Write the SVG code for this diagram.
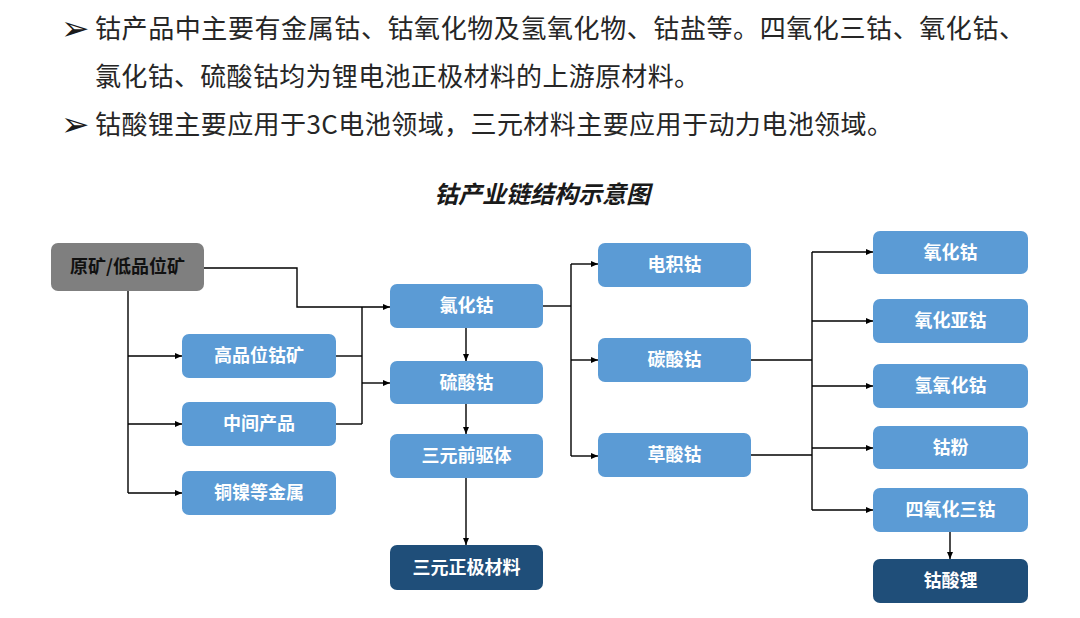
<svg xmlns="http://www.w3.org/2000/svg" width="1080" height="618" viewBox="0 0 1080 618">
<style>
.bul{font-family:"Noto Sans CJK SC","Liberation Sans",sans-serif;font-size:26px;fill:#262626}
.arr{font-family:"DejaVu Sans",sans-serif;font-size:34px;fill:#1a1a1a}
.title{font-family:"Noto Sans CJK SC",sans-serif;font-size:24px;font-weight:700;font-style:italic;fill:#1a1a1a}
.nb{fill:#5b9bd5}
.nd{fill:#1f4e79}
.ng{fill:#7f7f7f}
.t{font-family:"Noto Sans CJK SC",sans-serif;font-size:18px;font-weight:700;fill:#fff;text-anchor:middle}
.tk{font-family:"Noto Sans CJK SC",sans-serif;font-size:18px;font-weight:700;fill:#111;text-anchor:middle}
.c{fill:none;stroke:#000;stroke-width:1.4}
.ca{fill:none;stroke:#000;stroke-width:1.4;marker-end:url(#ah)}
</style>
<defs>
<marker id="ah" markerUnits="userSpaceOnUse" markerWidth="8" markerHeight="8" refX="7" refY="4" orient="auto">
<path d="M0,1 L7,4 L0,7 Z" fill="#000"/>
</marker>
</defs>
<rect width="1080" height="618" fill="#fff"/>
<g id="bullets">
<text class="arr" x="61" y="40">➢</text>
<text class="bul" x="95" y="38" textLength="930" lengthAdjust="spacing">钴产品中主要有金属钴、钴氧化物及氢氧化物、钴盐等。四氧化三钴、氧化钴、</text>
<text class="bul" x="95" y="86" textLength="605" lengthAdjust="spacing">氯化钴、硫酸钴均为锂电池正极材料的上游原材料。</text>
<text class="arr" x="61" y="136">➢</text>
<text class="bul" x="95" y="134" textLength="798" lengthAdjust="spacing">钴酸锂主要应用于3C电池领域，三元材料主要应用于动力电池领域。</text>
</g>
<text class="title" x="542" y="203" text-anchor="middle">钴产业链结构示意图</text>
<g id="connectors">
<path class="ca" d="M204,268 H297 V307 H390"/>
<path class="c" d="M128,291 V493"/>
<path class="ca" d="M128,356 H182"/>
<path class="ca" d="M128,424 H182"/>
<path class="ca" d="M128,493 H182"/>
<path class="c" d="M336,356 H362"/>
<path class="c" d="M336,424 H362"/>
<path class="c" d="M362,307 V424"/>
<path class="ca" d="M362,383 H390"/>
<path class="ca" d="M466,328 V361"/>
<path class="ca" d="M466,404 V434"/>
<path class="ca" d="M466,478 V545"/>
<path class="c" d="M543,306 H571"/>
<path class="c" d="M571,264 V456"/>
<path class="ca" d="M571,264 H598"/>
<path class="ca" d="M571,360 H598"/>
<path class="ca" d="M571,456 H598"/>
<path class="c" d="M751,360 H812"/>
<path class="c" d="M751,455 H812"/>
<path class="c" d="M812,252 V510"/>
<path class="ca" d="M812,252 H873"/>
<path class="ca" d="M812,321 H873"/>
<path class="ca" d="M812,386 H873"/>
<path class="ca" d="M812,448 H873"/>
<path class="ca" d="M812,510 H873"/>
<path class="ca" d="M950,532 V559"/>
</g>
<g id="n-raw"><rect class="ng" x="51" y="243" width="153" height="48" rx="7"/><text class="tk" x="127.5" y="273">原矿/低品位矿</text></g>
<g id="n-high"><rect class="nb" x="182" y="334" width="154" height="44" rx="7"/><text class="t" x="259" y="362">高品位钴矿</text></g>
<g id="n-mid"><rect class="nb" x="182" y="402" width="154" height="44" rx="7"/><text class="t" x="259" y="430">中间产品</text></g>
<g id="n-cuni"><rect class="nb" x="182" y="471" width="154" height="44" rx="7"/><text class="t" x="259" y="499">铜镍等金属</text></g>
<g id="n-cocl"><rect class="nb" x="390" y="284" width="153" height="44" rx="7"/><text class="t" x="466.5" y="312">氯化钴</text></g>
<g id="n-coso4"><rect class="nb" x="390" y="361" width="153" height="43" rx="7"/><text class="t" x="466.5" y="389">硫酸钴</text></g>
<g id="n-pre"><rect class="nb" x="390" y="434" width="153" height="44" rx="7"/><text class="t" x="466.5" y="462">三元前驱体</text></g>
<g id="n-ncm"><rect class="nd" x="390" y="545" width="153" height="45" rx="7"/><text class="t" x="466.5" y="574">三元正极材料</text></g>
<g id="n-elec"><rect class="nb" x="598" y="243" width="153" height="44" rx="7"/><text class="t" x="674.5" y="271">电积钴</text></g>
<g id="n-coco3"><rect class="nb" x="598" y="338" width="153" height="44" rx="7"/><text class="t" x="674.5" y="366">碳酸钴</text></g>
<g id="n-oxal"><rect class="nb" x="598" y="433" width="153" height="44" rx="7"/><text class="t" x="674.5" y="461">草酸钴</text></g>
<g id="n-coo"><rect class="nb" x="873" y="231" width="155" height="43" rx="7"/><text class="t" x="950.5" y="259">氧化钴</text></g>
<g id="n-coo2"><rect class="nb" x="873" y="299" width="155" height="44" rx="7"/><text class="t" x="950.5" y="327">氧化亚钴</text></g>
<g id="n-cooh"><rect class="nb" x="873" y="364" width="155" height="44" rx="7"/><text class="t" x="950.5" y="392">氢氧化钴</text></g>
<g id="n-copow"><rect class="nb" x="873" y="426" width="155" height="43" rx="7"/><text class="t" x="950.5" y="454">钴粉</text></g>
<g id="n-co3o4"><rect class="nb" x="873" y="488" width="155" height="44" rx="7"/><text class="t" x="950.5" y="516">四氧化三钴</text></g>
<g id="n-lco"><rect class="nd" x="873" y="559" width="155" height="44" rx="7"/><text class="t" x="950.5" y="587">钴酸锂</text></g>
</svg>
